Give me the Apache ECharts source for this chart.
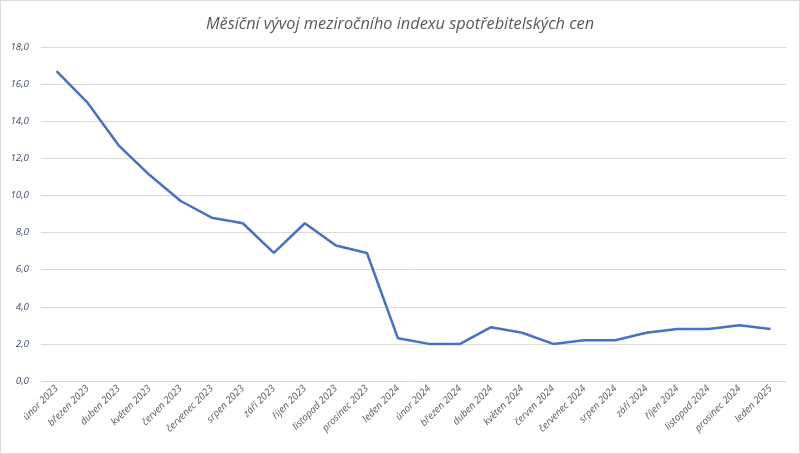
<!DOCTYPE html>
<html><head><meta charset="utf-8">
<script src="https://cdn.jsdelivr.net/npm/echarts@6/dist/echarts.min.js"></script>
<style>html,body{margin:0;padding:0;background:#fff}#c{width:800px;height:454px;box-sizing:border-box;border:1px solid #d9d9d9}</style>
</head><body><div id="c"></div>
<script>
const categories = ["únor 2023","březen 2023","duben 2023","květen 2023","červen 2023","červenec 2023","srpen 2023","září 2023","říjen 2023","listopad 2023","prosinec 2023","leden 2024","únor 2024","březen 2024","duben 2024","květen 2024","červen 2024","červenec 2024","srpen 2024","září 2024","říjen 2024","listopad 2024","prosinec 2024","leden 2025"];
const values = [16.7,15.0,12.7,11.1,9.7,8.8,8.5,6.9,8.5,7.3,6.9,2.3,2.0,2.0,2.9,2.6,2.0,2.2,2.2,2.6,2.8,2.8,3.0,2.8];
const titleText = "Měsíční vývoj meziročního indexu spotřebitelských cen";
const chart = echarts.init(document.getElementById('c'));
chart.setOption({
  animation:false,
  title:{text:titleText,left:'center',top:10,textStyle:{fontFamily:'Open Sans',fontStyle:'italic',fontWeight:'normal',fontSize:16.3,color:'#595959'}},
  grid:{left:40,right:13,top:46,bottom:72},
  xAxis:{type:'category',data:categories,boundaryGap:true,
    axisLine:{show:false},axisTick:{show:false},
    axisLabel:{rotate:45,interval:0,fontFamily:'Open Sans',fontStyle:'italic',fontSize:9.8,color:'#595959',margin:6}},
  yAxis:{type:'value',min:0,max:18,interval:2,
    axisLine:{show:false},axisTick:{show:false},
    splitLine:{lineStyle:{color:'#d9d9d9',width:1}},
    axisLabel:{fontFamily:'Open Sans',fontStyle:'italic',fontSize:9.8,color:'#44546A',margin:12,formatter:v=>v.toFixed(1).replace('.',',')}},
  series:[{type:'line',data:values,symbol:'none',lineStyle:{color:'#4472C4',width:2.5},itemStyle:{color:'#4472C4'}}]
});
</script></body></html>
